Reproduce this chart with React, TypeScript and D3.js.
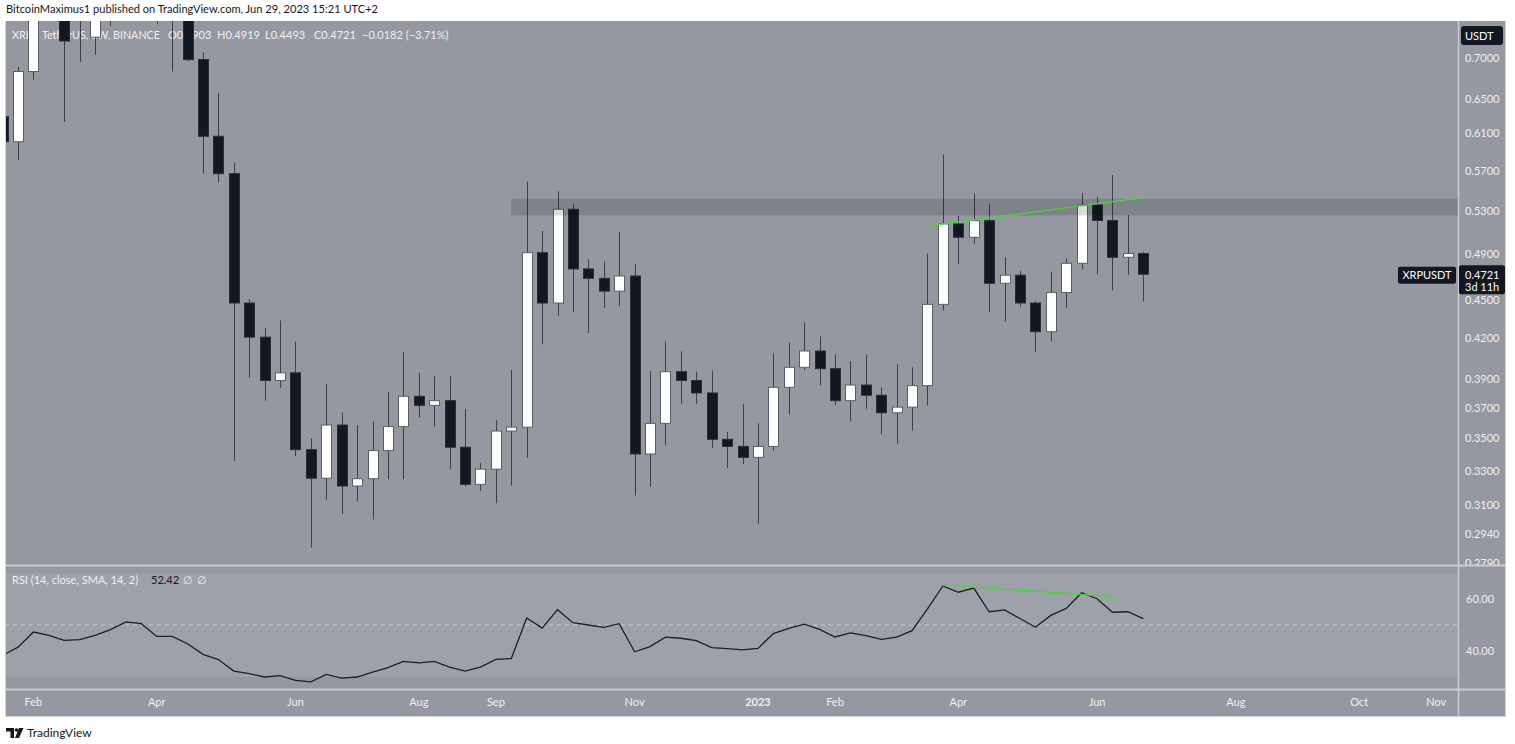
import React from 'react';
import * as d3 from 'd3';

// ---------- data ----------
const firstBar = '2022-01-24';
const afterLastBar = '2023-07-03';

const opens = [
  0.629, 0.601, 0.683, 0.80, 0.79, 0.76, 0.727, 0.80, 0.82, 0.84,
  0.82, 0.78, 0.76, 0.698, 0.607, 0.567, 0.448, 0.421, 0.389, 0.3945,
  0.343, 0.3256, 0.3587, 0.321, 0.3253, 0.3424, 0.3577, 0.378, 0.3718, 0.375,
  0.3445, 0.322, 0.331, 0.3548, 0.3573, 0.491, 0.448, 0.5314, 0.4767, 0.4686,
  0.4578, 0.4706, 0.3403, 0.3598, 0.3953, 0.389, 0.3803, 0.3495, 0.345, 0.3382,
  0.345, 0.3842, 0.3985, 0.4105, 0.3975, 0.375, 0.3858, 0.3787, 0.3668, 0.3706,
  0.3854, 0.4469, 0.5174, 0.505, 0.5205, 0.4644, 0.4713, 0.448, 0.4252, 0.4566,
  0.4816, 0.5356, 0.5207, 0.4869, 0.4903,
];
const highs = [
  0.66, 0.689, 0.91, 0.89, 0.82, 0.80, 0.84, 0.84, 0.87, 0.86,
  0.85, 0.80, 0.80, 0.707, 0.657, 0.579, 0.451, 0.428, 0.434, 0.4175,
  0.350, 0.3866, 0.367, 0.3587, 0.361, 0.381, 0.4096, 0.3946, 0.392, 0.392,
  0.3693, 0.3346, 0.3617, 0.3966, 0.5588, 0.5108, 0.549, 0.537, 0.485, 0.4833,
  0.5101, 0.4808, 0.3958, 0.4178, 0.4103, 0.3953, 0.396, 0.3542, 0.3728, 0.3598,
  0.4087, 0.4167, 0.4326, 0.4215, 0.4081, 0.4031, 0.4081, 0.3842, 0.4009, 0.3985,
  0.49, 0.587, 0.525, 0.547, 0.537, 0.487, 0.475, 0.4495, 0.4743, 0.4859,
  0.5475, 0.5437, 0.5656, 0.5259, 0.4919,
];
const lows = [
  0.55, 0.581, 0.673, 0.76, 0.623, 0.695, 0.704, 0.742, 0.78, 0.79,
  0.745, 0.683, 0.696, 0.567, 0.558, 0.336, 0.391, 0.375, 0.384, 0.339,
  0.287, 0.313, 0.305, 0.312, 0.302, 0.325, 0.325, 0.3637, 0.3577, 0.331,
  0.3206, 0.318, 0.311, 0.3212, 0.3379, 0.4155, 0.4375, 0.4406, 0.4242, 0.444,
  0.4455, 0.3155, 0.3206, 0.3458, 0.3728, 0.373, 0.3442, 0.3317, 0.334, 0.2996,
  0.3424, 0.3657, 0.3966, 0.3857, 0.372, 0.3608, 0.3696, 0.3528, 0.3466, 0.355,
  0.3717, 0.442, 0.4811, 0.499, 0.4406, 0.433, 0.445, 0.41, 0.4177, 0.444,
  0.476, 0.4722, 0.4583, 0.4716, 0.4493,
];
const closes = [
  0.601, 0.683, 0.80, 0.79, 0.722, 0.75, 0.80, 0.82, 0.84, 0.82,
  0.78, 0.76, 0.698, 0.607, 0.567, 0.448, 0.421, 0.389, 0.3945, 0.343,
  0.3256, 0.3587, 0.321, 0.3253, 0.3424, 0.3577, 0.378, 0.3718, 0.375, 0.3445,
  0.322, 0.331, 0.3548, 0.3573, 0.491, 0.448, 0.5314, 0.4767, 0.4686, 0.4578,
  0.4706, 0.3403, 0.3598, 0.3953, 0.389, 0.3803, 0.3495, 0.345, 0.3382, 0.345,
  0.3842, 0.3985, 0.4105, 0.3975, 0.375, 0.3858, 0.3787, 0.3668, 0.3706, 0.3854,
  0.4469, 0.5174, 0.505, 0.5205, 0.4644, 0.4713, 0.448, 0.4252, 0.4566, 0.4816,
  0.5356, 0.5207, 0.4869, 0.4903, 0.4721,
];
const rsiValues = [
  38.3, 41.5, 47.3, 46.0, 44.1, 44.4, 46.0, 48.2, 51.2, 50.5,
  45.6, 45.6, 42.8, 38.7, 36.7, 32.3, 31.3, 30.0, 30.5, 28.7,
  28.1, 31.0, 29.6, 30.0, 31.9, 33.6, 36.0, 35.4, 36.0, 33.8,
  32.3, 33.8, 36.8, 37.1, 52.7, 48.8, 55.9, 50.9, 50.0, 49.1,
  50.5, 39.7, 41.7, 45.3, 44.9, 44.0, 41.3, 40.9, 40.4, 41.0,
  46.7, 48.7, 50.3, 48.3, 45.4, 47.0, 45.9, 44.5, 45.3, 47.8,
  56.2, 65.0, 62.6, 64.2, 55.1, 55.8, 52.5, 49.1, 53.7, 56.4,
  62.4, 60.1, 54.9, 55.1, 52.42,
];

const priceTicks = [0.7, 0.65, 0.61, 0.57, 0.53, 0.49, 0.45, 0.42, 0.39, 0.37, 0.35, 0.33, 0.31, 0.294, 0.279];
const rsiTicks = [60, 40];
const timeTickDates = ['2022-02-07', '2022-04-04', '2022-06-06', '2022-08-01', '2022-09-05', '2022-11-07', '2023-01-02', '2023-02-06', '2023-04-03', '2023-06-05', '2023-08-07', '2023-10-02', '2023-11-06'];
const timeTickLabels = ['Feb', 'Apr', 'Jun', 'Aug', 'Sep', 'Nov', '2023', 'Feb', 'Apr', 'Jun', 'Aug', 'Oct', 'Nov'];

const zoneLow = 0.5255;
const zoneHigh = 0.5416;
const zoneStart = '2022-09-12';
const priceTrendDates = ['2023-03-20', '2023-06-26'];
const priceTrendValues = [0.5155, 0.5428];
const rsiTrendDates = ['2023-03-27', '2023-06-12'];
const rsiTrendValues = [65.4, 60.9];

const lastPrice = 0.4721;
const legendSymbol = 'XRP / TetherUS, 1W, BINANCE';
const legendValues = ['O0.4903', 'H0.4919', 'L0.4493', 'C0.4721', '\u22120.0182 (\u22123.71%)'];

// ---------- layout ----------
const W = 1515, H = 744;
const L = 5, R = 1458, AXR = 1506;
const MAIN_T = 21, MAIN_B = 565;
const RSI_T = 566, RSI_B = 689;
const TIME_B = 716;

const BG = '#9598a1';
const SEP = '#c9ccd2';
const TXT = '#eef0f4';
const DARK = '#131722';
const FONT = "Lato, 'Open Sans', sans-serif";

const parse = d3.timeParse('%Y-%m-%d');
const barDates = d3.timeMonday.range(parse(firstBar)!, parse(afterLastBar)!);
const bars = barDates.map((d, i) => ({ date: d, o: opens[i], h: highs[i], l: lows[i], c: closes[i], rsi: rsiValues[i] }));

const x = d3.scaleTime().domain([parse('2022-01-31')!, parse('2023-06-26')!]).range([18, 1143.3]);
const y = d3.scaleLog().domain([0.279, 0.7]).range([563, 58]);
const yr = d3.scaleLinear().domain([40, 60]).range([651, 599]);

export default function App() {
  const rsiLine = d3.line<typeof bars[0]>().x(b => x(b.date)).y(b => yr(b.rsi))(bars) || '';
  const fmt = d3.format('.4f');
  const lastY = y(lastPrice);
  return (
    <svg width={W} height={H} style={{ position: 'absolute', left: 0, top: 0, background: '#fff' }} fontFamily={FONT}>
      <defs>
        <clipPath id="mainClip"><rect x={L} y={MAIN_T} width={R - L} height={MAIN_B - MAIN_T} /></clipPath>
        <clipPath id="rsiClip"><rect x={L} y={RSI_T} width={R - L} height={RSI_B - RSI_T} /></clipPath>
        <clipPath id="axisClip"><rect x={R} y={MAIN_T} width={AXR - R} height={MAIN_B - MAIN_T} /></clipPath>
      </defs>
      <rect x={0} y={0} width={W} height={H} fill="#fff" />
      <text x={6} y={13} fontSize={11} fill={DARK} textLength={372} lengthAdjust="spacingAndGlyphs">BitcoinMaximus1 published on TradingView.com, Jun 29, 2023 15:21 UTC+2</text>

      {/* frame */}
      <rect x={L} y={MAIN_T} width={AXR - L} height={TIME_B - MAIN_T} fill={BG} />
      {/* RSI 30-70 band */}
      <rect x={L} y={yr(70)} width={R - L} height={yr(30) - yr(70)} fill="#9ea1a9" />

      {/* legend (drawn under candles) */}
      <g fontSize={11} fill={TXT}>
        <text x={12} y={39} textLength={148} lengthAdjust="spacingAndGlyphs">{legendSymbol}</text>
        {legendValues.map((v, i) => (
          <text key={i} x={[168, 217, 265, 314, 362][i]} y={39}>{v}</text>
        ))}
      </g>

      {/* candles */}
      <g clipPath="url(#mainClip)">
        {bars.map((b, i) => {
          const cx = Math.round(x(b.date)) + 0.5;
          const up = b.c >= b.o;
          const top = y(Math.max(b.o, b.c));
          const bot = y(Math.min(b.o, b.c));
          const hh = Math.max(bot - top, 2);
          return (
            <g key={i}>
              <line x1={cx} x2={cx} y1={y(b.h)} y2={y(b.l)} stroke="#3c3f48" strokeWidth={1} />
              <rect x={cx - 5} y={top} width={10} height={hh} fill={up ? '#ffffff' : DARK} stroke={up ? '#5a5e68' : '#2a2e39'} strokeWidth={1} />
            </g>
          );
        })}
        {/* resistance zone */}
        <rect x={x(parse(zoneStart)!) } y={y(zoneHigh)} width={R - x(parse(zoneStart)!)} height={y(zoneLow) - y(zoneHigh)} fill="#000" fillOpacity={0.14} />
        {/* trend line */}
        <line x1={x(parse(priceTrendDates[0])!)} y1={y(priceTrendValues[0])} x2={x(parse(priceTrendDates[1])!)} y2={y(priceTrendValues[1])} stroke="#3ee02b" strokeWidth={1.3} />
      </g>

      {/* RSI pane */}
      <line x1={L} x2={R} y1={yr(50)} y2={yr(50)} stroke="#c7cad0" strokeDasharray="4 4" strokeWidth={1} />
      <g clipPath="url(#rsiClip)">
        <path d={rsiLine} fill="none" stroke="#1c1f27" strokeWidth={1.3} />
        <line x1={x(parse(rsiTrendDates[0])!)} y1={yr(rsiTrendValues[0])} x2={x(parse(rsiTrendDates[1])!)} y2={yr(rsiTrendValues[1])} stroke="#3ee02b" strokeWidth={1.3} />
      </g>
      <g fontSize={11}>
        <text x={12} y={584} fill={TXT}>RSI (14, close, SMA, 14, 2)</text>
        <text x={151} y={584} fill={DARK}>52.42</text>
        <text x={183} y={584} fill={TXT}>{'\u2205'}</text>
        <text x={197} y={584} fill={TXT}>{'\u2205'}</text>
      </g>

      {/* separators */}
      <line x1={L} x2={AXR} y1={MAIN_B + 0.5} y2={MAIN_B + 0.5} stroke={SEP} strokeWidth={2} />
      <line x1={L} x2={AXR} y1={RSI_B + 0.5} y2={RSI_B + 0.5} stroke={SEP} strokeWidth={2} />
      <line x1={R + 0.5} x2={R + 0.5} y1={MAIN_T} y2={TIME_B} stroke={SEP} strokeWidth={1.5} />
      <line x1={L + 0.5} x2={L + 0.5} y1={MAIN_T} y2={TIME_B} stroke="#d0d3d8" strokeWidth={1} />
      <line x1={L} x2={AXR} y1={TIME_B + 0.5} y2={TIME_B + 0.5} stroke="#d0d3d8" strokeWidth={1} />
      <line x1={AXR - 0.5} x2={AXR - 0.5} y1={MAIN_T} y2={TIME_B} stroke="#d0d3d8" strokeWidth={1} />

      {/* price axis */}
      <g clipPath="url(#axisClip)" fontSize={11} fill={TXT}>
        {priceTicks.map((p, i) => (
          <text key={i} x={1465} y={y(p)} dy="0.35em">{fmt(p)}</text>
        ))}
      </g>
      <rect x={1461} y={26} width={42} height={19} rx={3} fill={DARK} />
      <text x={1465} y={39.5} fontSize={11} fill="#fff">USDT</text>

      {/* last price labels */}
      <rect x={1398} y={lastY - 7.5} width={58} height={17} rx={2} fill={DARK} />
      <text x={1427} y={lastY + 1} dy="0.35em" fontSize={11} fill="#fff" textAnchor="middle">XRPUSDT</text>
      <rect x={1459} y={lastY - 9} width={46} height={29} rx={2} fill={DARK} />
      <text x={1465} y={lastY + 1} dy="0.35em" fontSize={11} fill="#fff">{fmt(lastPrice)}</text>
      <text x={1465} y={lastY + 13} dy="0.35em" fontSize={11} fill="#fff">3d 11h</text>

      {/* RSI axis */}
      <g fontSize={11} fill={TXT}>
        {rsiTicks.map((t, i) => (
          <text key={i} x={1466} y={yr(t)} dy="0.35em">{t.toFixed(2)}</text>
        ))}
      </g>

      {/* time axis */}
      <g fontSize={11} fill={TXT} textAnchor="middle">
        {timeTickDates.map((d, i) => (
          <text key={i} x={x(parse(d)!)} y={706} fontWeight={timeTickLabels[i] === '2023' ? 700 : 400}>{timeTickLabels[i]}</text>
        ))}
      </g>

      {/* footer logo */}
      <g fill={DARK}>
        <path d="M6 728 h8 v10 h-3.5 v-6.5 h-4.5 z" />
        <circle cx={16.5} cy={730} r={1.8} />
        <path d="M19 728 h4.5 l-4.5 10 h-4 z" />
        <text x={27} y={737} fontSize={12} fontFamily={FONT}>TradingView</text>
      </g>
    </svg>
  );
}
